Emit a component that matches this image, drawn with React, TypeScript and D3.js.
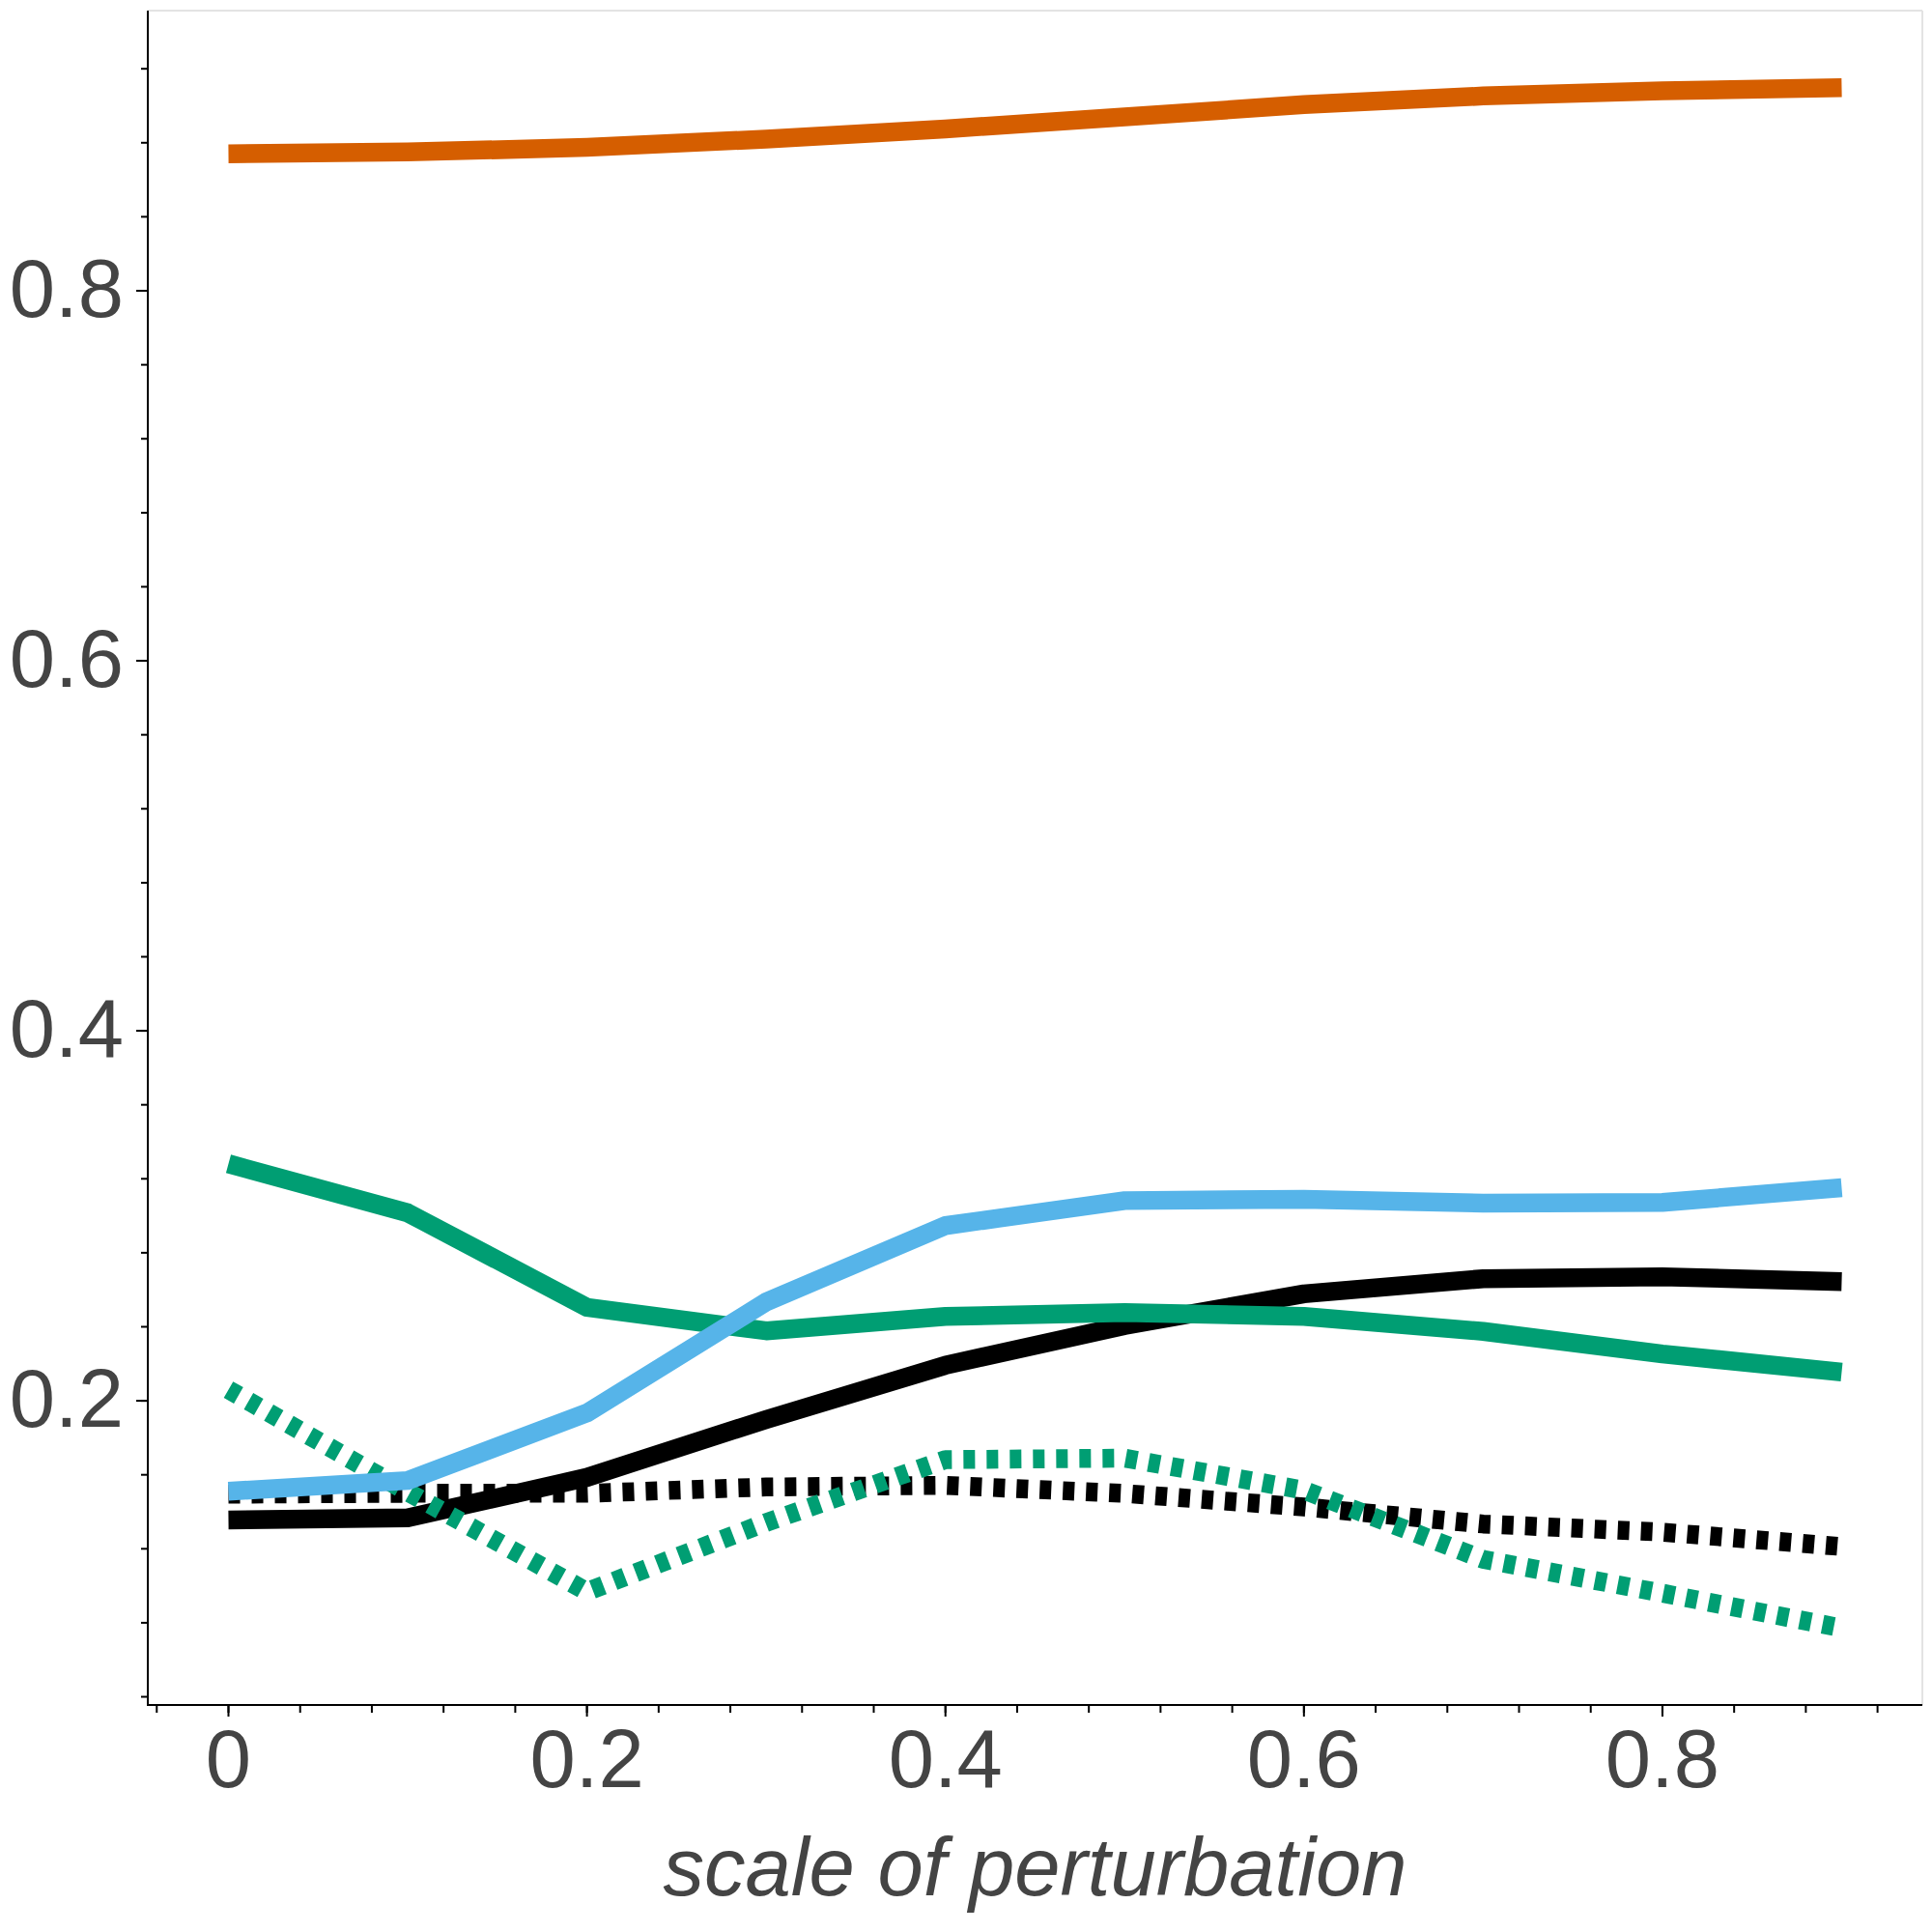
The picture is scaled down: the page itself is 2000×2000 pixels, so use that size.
import React from 'react'
import * as d3 from 'd3'

const perturbation = [0, 0.1, 0.2, 0.3, 0.4, 0.5, 0.6, 0.7, 0.8, 0.9]

const orangeSolid = [0.874, 0.875, 0.8775, 0.882, 0.8875, 0.894, 0.9006, 0.9053, 0.9081, 0.9098]
const greenSolid = [0.3281, 0.3016, 0.2505, 0.2378, 0.2456, 0.2477, 0.2456, 0.2375, 0.2253, 0.2155]
const blueSolid = [0.1511, 0.1569, 0.1934, 0.2534, 0.2947, 0.3082, 0.3089, 0.3068, 0.3072, 0.3152]
const blackSolid = [0.1356, 0.1367, 0.1586, 0.1899, 0.2192, 0.2407, 0.2578, 0.266, 0.267, 0.2644]
const blackDotted = [0.1495, 0.15, 0.15, 0.1534, 0.1543, 0.1499, 0.1426, 0.1334, 0.129, 0.1212]
const greenDotted = [0.206, 0.1507, 0.0969, 0.1342, 0.1682, 0.169, 0.1517, 0.1143, 0.096, 0.0772]

const xTicks = [0, 0.2, 0.4, 0.6, 0.8]
const xTickLabels = ['0', '0.2', '0.4', '0.6', '0.8']
const yTicks = [0.2, 0.4, 0.6, 0.8]
const yTickLabels = ['0.2', '0.4', '0.6', '0.8']

const xLabel = 'scale of perturbation'

// draw order: later series end up on top
const series = [
  { values: blackSolid, color: '#000000', dash: null },
  { values: blackDotted, color: '#000000', dash: '12 12' },
  { values: greenSolid, color: '#009E73', dash: null },
  { values: greenDotted, color: '#009E73', dash: '12 12' },
  { values: blueSolid, color: '#56B4E9', dash: null },
  { values: orangeSolid, color: '#D55E00', dash: null },
]

const W = 2000
const H = 2000
const left = 153
const right = 1990
const top = 11
const bottom = 1765

const FONT = '"Liberation Sans", Arial, Helvetica, sans-serif'
const TEXT = '#444444'

function padded([lo, hi]: [number, number], frac = 0.05): [number, number] {
  const p = (hi - lo) * frac
  return [lo - p, hi + p]
}

export default function App() {
  const xExt = d3.extent(perturbation) as [number, number]
  const yExt = d3.extent(series.flatMap(s => s.values)) as [number, number]

  const x = d3.scaleLinear().domain(padded(xExt)).range([left, right])
  const y = d3.scaleLinear().domain(padded(yExt)).range([bottom, top])

  const line = d3.line<number>()
    .x((_, i) => x(perturbation[i]))
    .y(d => y(d))

  const xMinor = d3.range(-0.04, 0.93, 0.04).filter(v => v >= x.domain()[0] && v <= x.domain()[1])
  const yMinor = d3.range(0.04, 0.93, 0.04).filter(v => v >= y.domain()[0] && v <= y.domain()[1])

  return (
    <svg width={W} height={H} style={{ position: 'absolute', left: 0, top: 0, display: 'block', background: '#fff' }}>
      <rect x={0} y={0} width={W} height={H} fill="#fff" />

      {/* light top and right frame */}
      <line x1={left} x2={right} y1={top} y2={top} stroke="#e3e3e3" strokeWidth={2} />
      <line x1={right} x2={right} y1={top} y2={bottom} stroke="#e3e3e3" strokeWidth={2} />

      {series.map((s, i) => (
        <path
          key={i}
          d={line(s.values) || ''}
          fill="none"
          stroke={s.color}
          strokeWidth={19.5}
          strokeDasharray={s.dash || undefined}
          strokeLinecap="butt"
          strokeLinejoin="round"
        />
      ))}

      {/* axes */}
      <line x1={left} x2={left} y1={top} y2={bottom + 1} stroke="#000" strokeWidth={2} />
      <line x1={left - 1} x2={right} y1={bottom} y2={bottom} stroke="#000" strokeWidth={2} />

      {yMinor.map((v, i) => (
        <line key={'ym' + i} x1={left - 7} x2={left} y1={y(v)} y2={y(v)} stroke="#000" strokeWidth={2} />
      ))}
      {yTicks.map((v, i) => (
        <g key={'y' + i}>
          <line x1={left - 12} x2={left} y1={y(v)} y2={y(v)} stroke="#000" strokeWidth={2} />
          <text x={128} y={y(v) + 27} textAnchor="end" fontFamily={FONT} fontSize={85} fill={TEXT}>
            {yTickLabels[i]}
          </text>
        </g>
      ))}

      {xMinor.map((v, i) => (
        <line key={'xm' + i} x1={x(v)} x2={x(v)} y1={bottom} y2={bottom + 8} stroke="#000" strokeWidth={2} />
      ))}
      {xTicks.map((v, i) => (
        <g key={'x' + i}>
          <line x1={x(v)} x2={x(v)} y1={bottom} y2={bottom + 12} stroke="#000" strokeWidth={2} />
          <text x={x(v)} y={1850} textAnchor="middle" fontFamily={FONT} fontSize={85} fill={TEXT}>
            {xTickLabels[i]}
          </text>
        </g>
      ))}

      <text
        x={(left + right) / 2}
        y={1962}
        textAnchor="middle"
        fontFamily={FONT}
        fontSize={85}
        fontStyle="italic"
        fill={TEXT}
      >
        {xLabel}
      </text>
    </svg>
  )
}
